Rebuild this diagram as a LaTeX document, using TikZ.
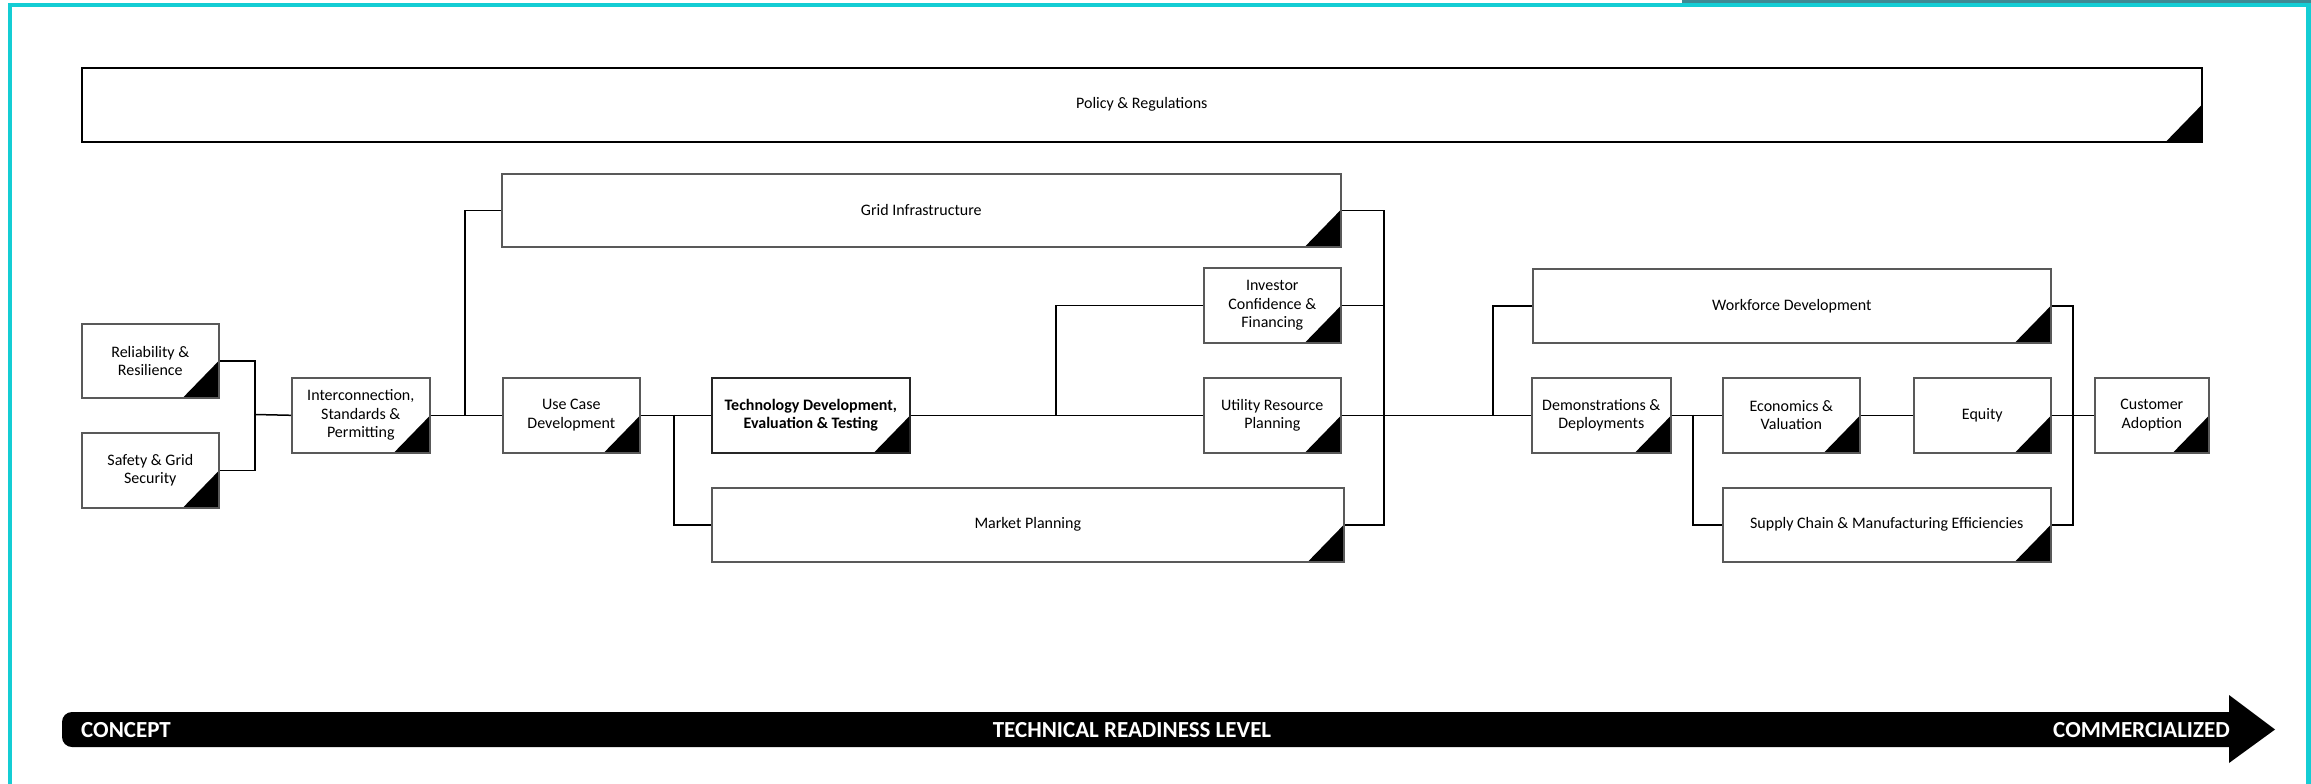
\documentclass[tikz,border=0pt]{standalone}
\usepackage{fontspec}
\setmainfont{Carlito}
\usetikzlibrary{calc}
\definecolor{frameteal}{RGB}{20,205,212}
\definecolor{stripgray}{RGB}{62,138,148}
\tikzset{
  box/.style={draw=black!65, line width=1.6pt, fill=white, inner sep=2pt, align=center,
    font=\fontsize{16}{18.5}\selectfont, anchor=north west,
    path picture={\fill[black] (path picture bounding box.south east) -- ++(-36pt,0pt) -- ++(36pt,37pt) -- cycle;}},
  conn/.style={draw=black, line width=1.5pt},
  arrowlabel/.style={text=white, font=\bfseries\fontsize{23}{26}\selectfont, inner sep=0pt}
}
\newcommand{\bx}[6]{\node[box, minimum width=#3-#1, minimum height=#4-#2, #6] (#5) at (#1,#2) {};}
\begin{document}
\begin{tikzpicture}[x=1pt, y=-1pt]
\useasboundingbox (0,0) rectangle (2311,784);
% frame
\fill[stripgray] (1682,0) rectangle (2311,3.5);
\fill[frameteal] (8,3.5) rectangle (2311,7.5);
\fill[frameteal] (8,3.5) rectangle (12,784);
\fill[frameteal] (2306,3.5) rectangle (2311,784);

% boxes
\node[box, draw=black, minimum width=2120pt, minimum height=74pt] (policy) at (81,67) {Policy \& Regulations};
\node[box, minimum width=839pt, minimum height=73pt] (grid) at (501,173) {Grid Infrastructure};
\node[box, minimum width=137pt, minimum height=74pt] (rel) at (81,323) {Reliability \&\\Resilience};
\node[box, minimum width=137pt, minimum height=75pt] (safety) at (81,432) {Safety \& Grid\\Security};
\node[box, minimum width=138pt, minimum height=75pt] (inter) at (291,377) {Interconnection,\\Standards \&\\Permitting};
\node[box, minimum width=137pt, minimum height=75pt] (usecase) at (502,377) {Use Case\\Development};
\node[box, draw=black!85, minimum width=198pt, minimum height=75pt, font=\bfseries\fontsize{16}{18.5}\selectfont] (tech) at (711,377) {Technology Development,\\Evaluation \& Testing};
\node[box, minimum width=632pt, minimum height=74pt] (market) at (711,487) {Market Planning};
\node[box, minimum width=137pt, minimum height=75pt] (investor) at (1203,267) {Investor\\Confidence \&\\Financing};
\node[box, minimum width=137pt, minimum height=75pt] (utility) at (1203,377) {Utility Resource\\Planning};
\node[box, minimum width=518pt, minimum height=74pt] (workforce) at (1532,268) {Workforce Development};
\node[box, minimum width=139pt, minimum height=75pt] (demo) at (1531,377) {Demonstrations \&\\Deployments};
\node[box, minimum width=137pt, minimum height=75pt] (econ) at (1722,377) {Economics \&\\Valuation};
\node[box, minimum width=137pt, minimum height=75pt] (equity) at (1913,377) {Equity};
\node[box, minimum width=114pt, minimum height=75pt] (customer) at (2094,377) {Customer\\Adoption};
\node[box, minimum width=328pt, minimum height=74pt] (supply) at (1722,487) {Supply Chain \& Manufacturing Efficiencies};

% junction coordinates
\coordinate (j1) at (255,414.5);
\coordinate (j2) at (465,414.5);
\coordinate (j3) at (674,414.5);
\coordinate (j4) at (1056,414.5);
\coordinate (b1) at (1384,414.5);
\coordinate (j5) at (1493,414.5);
\coordinate (j6) at (1693,414.5);
\coordinate (b2) at (2073,414.5);

% connectors
\draw[conn] (rel.east) -| (j1) |- (safety.east);
\draw[conn] (j1) -- (inter.west);
\draw[conn] (inter.east) -- (usecase.west);
\draw[conn] (j2) |- (grid.west);
\draw[conn] (usecase.east) -- (tech.west);
\draw[conn] (j3) |- (market.west);
\draw[conn] (tech.east) -- (utility.west);
\draw[conn] (j4) |- (investor.west);
\draw[conn] (grid.east) -| (b1) |- (market.east);
\draw[conn] (investor.east) -- (investor.east -| b1);
\draw[conn] (utility.east) -- (demo.west);
\draw[conn] (j5) |- (workforce.west);
\draw[conn] (demo.east) -- (econ.west);
\draw[conn] (j6) |- (supply.west);
\draw[conn] (econ.east) -- (equity.west);
\draw[conn] (workforce.east) -| (b2) |- (supply.east);
\draw[conn] (equity.east) -- (customer.west);

% readiness arrow
\fill[black] (2229,712) -- (2229,695) -- (2275,729.5) -- (2229,763) -- (2229,747)
  [rounded corners=10pt] -- (62,747) -- (62,712) [sharp corners] -- cycle;
\node[arrowlabel, anchor=west] (concept) at (81,730) {CONCEPT};
\node[arrowlabel] (trl) at (1132,730) {TECHNICAL READINESS LEVEL};
\node[arrowlabel, anchor=east] (comm) at (2230,730) {COMMERCIALIZED};
\end{tikzpicture}
\end{document}
